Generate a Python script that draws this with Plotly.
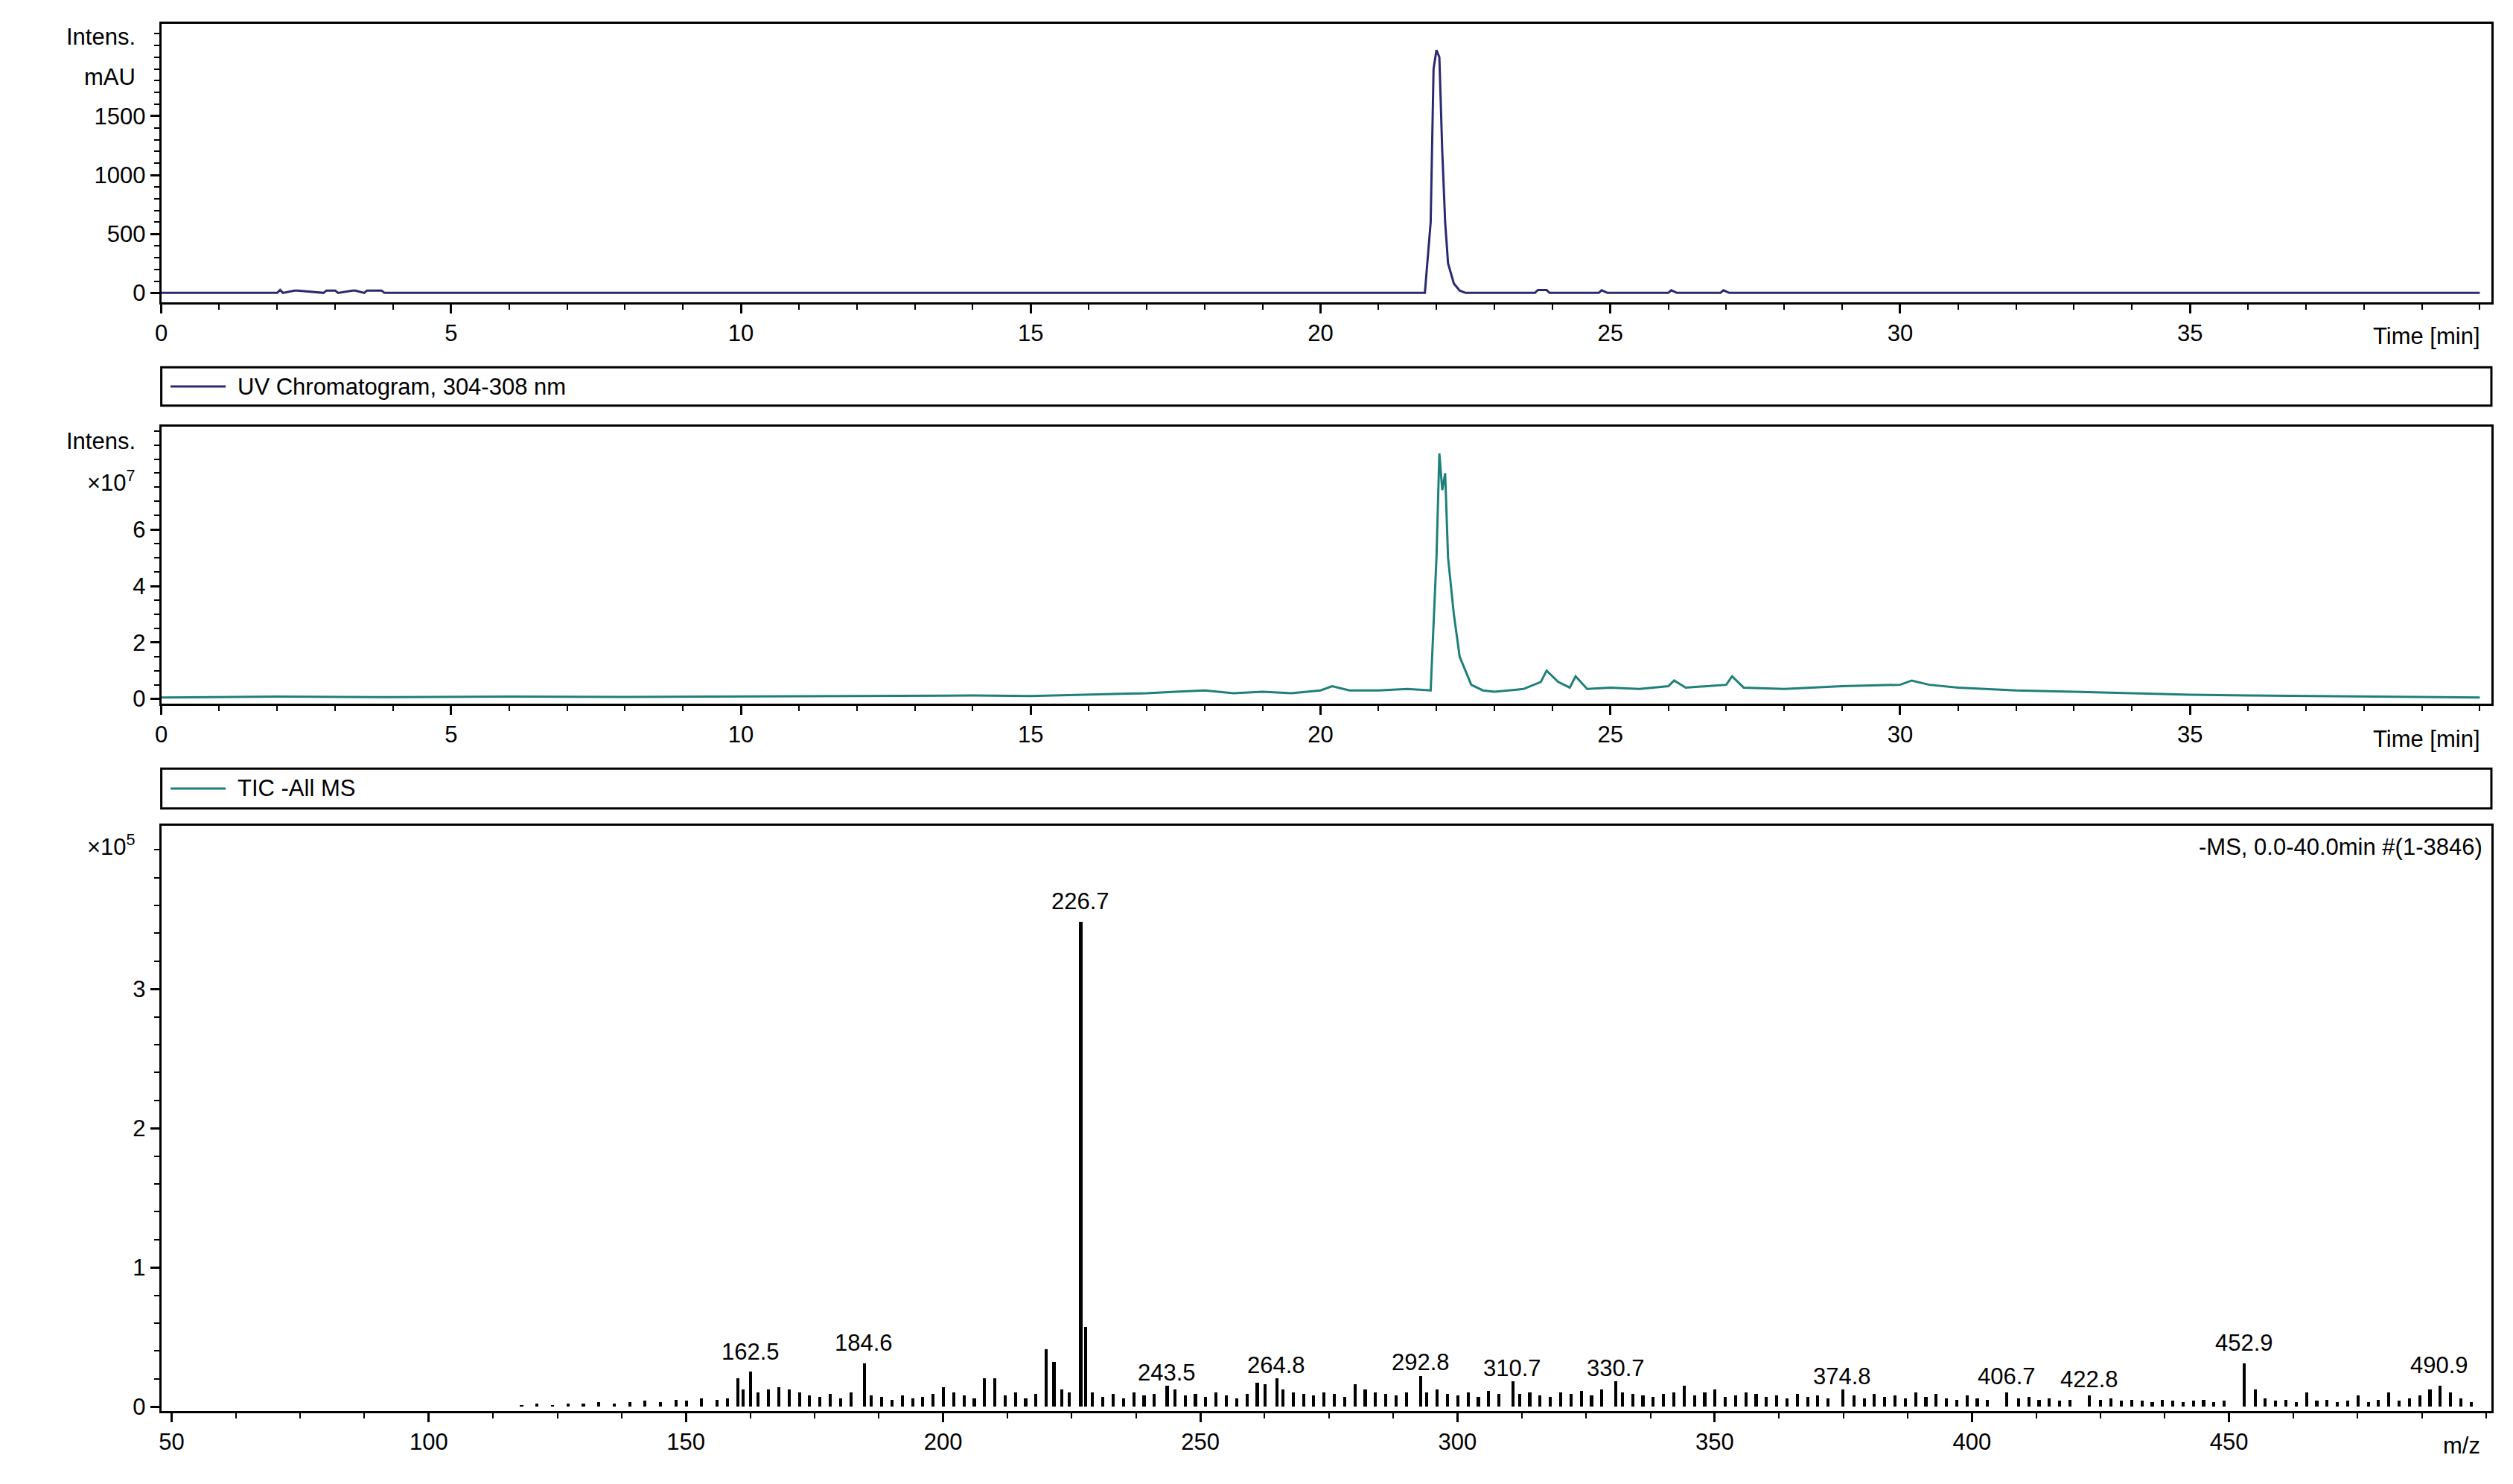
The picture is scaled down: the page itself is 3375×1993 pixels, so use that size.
import plotly.graph_objects as go

# UV chromatogram 304-308 nm (mAU)
uv_time = [0, 2.0, 2.05, 2.1, 2.3, 2.35, 2.8, 2.85, 3.0, 3.05, 3.3, 3.35, 3.5, 3.55, 3.8, 3.85,
           21.8, 21.9, 21.95, 22.0, 22.05, 22.1, 22.15, 22.2, 22.3, 22.4, 22.5,
           23.7, 23.75, 23.9, 23.95, 24.8, 24.85, 24.95, 26.0, 26.05, 26.15, 26.9, 26.95, 27.05, 40]
uv_int = [0, 0, 25, 0, 20, 20, 0, 20, 20, 0, 20, 20, 0, 20, 20, 0,
          0, 600, 1900, 2060, 2000, 1200, 600, 250, 80, 20, 0,
          0, 25, 25, 0, 0, 22, 0, 0, 22, 0, 0, 22, 0, 0]

# TIC - All MS (x10^7)
tic_time = [0, 2, 4, 6, 8, 10, 12, 14, 15, 16, 17, 17.5, 18, 18.5, 19, 19.5, 20, 20.2, 20.5, 21, 21.5,
            21.9, 22.0, 22.05, 22.1, 22.15, 22.2, 22.3, 22.4, 22.6, 22.8, 23.0, 23.5, 23.8, 23.9, 24.1,
            24.3, 24.4, 24.6, 25.0, 25.5, 26.0, 26.1, 26.3, 27.0, 27.1, 27.3, 28.0, 29.0, 30.0, 30.2,
            30.5, 31.0, 32.0, 33.0, 34.0, 35.0, 36.0, 37.0, 38.0, 39.0, 40.0]
tic_int = [0.05, 0.08, 0.06, 0.08, 0.07, 0.09, 0.1, 0.12, 0.1, 0.14, 0.2, 0.25, 0.3, 0.2, 0.25, 0.2,
           0.3, 0.45, 0.3, 0.3, 0.35, 0.3, 5.0, 8.7, 7.4, 8.0, 5.0, 3.0, 1.5, 0.5, 0.3, 0.25, 0.35,
           0.6, 1.0, 0.6, 0.4, 0.8, 0.35, 0.4, 0.35, 0.45, 0.65, 0.4, 0.5, 0.8, 0.4, 0.35, 0.45, 0.5,
           0.65, 0.5, 0.4, 0.3, 0.25, 0.2, 0.15, 0.12, 0.1, 0.08, 0.06, 0.05]

# mass spectrum (x10^5)
ms_mz = [118, 121, 124, 127, 130, 133, 136, 139, 142, 145, 148, 150, 153, 156, 158, 160, 161, 162.5,
         164, 166, 168, 170, 172, 174, 176, 178, 180, 182, 184.6, 186, 188, 190, 192, 194, 196, 198,
         200, 202, 204, 206, 208, 210, 212, 214, 216, 218, 220, 221.5, 223, 224.5, 226.7, 227.7, 229,
         231, 233, 235, 237, 239, 241, 243.5, 245, 247, 249, 251, 253, 255, 257, 259, 261, 262.5, 264.8,
         266, 268, 270, 272, 274, 276, 278, 280, 282, 284, 286, 288, 290, 292.8, 294, 296, 298, 300,
         302, 304, 306, 308, 310.7, 312, 314, 316, 318, 320, 322, 324, 326, 328, 330.7, 332, 334, 336,
         338, 340, 342, 344, 346, 348, 350, 352, 354, 356, 358, 360, 362, 364, 366, 368, 370, 372,
         374.8, 377, 379, 381, 383, 385, 387, 389, 391, 393, 395, 397, 399, 401, 403, 406.7, 409, 411,
         413, 415, 417, 419, 422.8, 425, 427, 429, 431, 433, 435, 437, 439, 441, 443, 445, 447, 449,
         452.9, 455, 457, 459, 461, 463, 465, 467, 469, 471, 473, 475, 477, 479, 481, 483, 485, 487,
         489, 490.9, 493, 495, 497]
ms_int = [0.01, 0.02, 0.01, 0.02, 0.02, 0.03, 0.02, 0.03, 0.04, 0.03, 0.05, 0.04, 0.06, 0.05, 0.06,
          0.2, 0.12, 0.25, 0.1, 0.12, 0.14, 0.12, 0.1, 0.08, 0.07, 0.09, 0.06, 0.1, 0.31, 0.08, 0.07,
          0.05, 0.08, 0.06, 0.07, 0.09, 0.14, 0.1, 0.08, 0.06, 0.2, 0.2, 0.08, 0.1, 0.06, 0.09, 0.41,
          0.32, 0.12, 0.1, 3.48, 0.57, 0.1, 0.07, 0.09, 0.06, 0.1, 0.08, 0.09, 0.15, 0.12, 0.08, 0.09,
          0.07, 0.1, 0.08, 0.06, 0.09, 0.17, 0.16, 0.2, 0.12, 0.1, 0.09, 0.08, 0.1, 0.09, 0.07, 0.16,
          0.12, 0.1, 0.09, 0.08, 0.1, 0.22, 0.1, 0.12, 0.09, 0.08, 0.1, 0.07, 0.11, 0.09, 0.18, 0.09,
          0.1, 0.08, 0.07, 0.1, 0.09, 0.11, 0.08, 0.12, 0.18, 0.1, 0.09, 0.08, 0.07, 0.09, 0.1, 0.15,
          0.08, 0.1, 0.12, 0.07, 0.08, 0.1, 0.09, 0.07, 0.08, 0.06, 0.09, 0.07, 0.08, 0.06, 0.12, 0.08,
          0.06, 0.09, 0.07, 0.08, 0.06, 0.1, 0.07, 0.09, 0.06, 0.05, 0.08, 0.06, 0.05, 0.1, 0.06, 0.07,
          0.05, 0.06, 0.04, 0.05, 0.08, 0.05, 0.06, 0.04, 0.05, 0.04, 0.03, 0.05, 0.04, 0.03, 0.04, 0.05,
          0.03, 0.04, 0.31, 0.12, 0.06, 0.04, 0.05, 0.03, 0.1, 0.04, 0.05, 0.03, 0.04, 0.08, 0.03, 0.05,
          0.1, 0.04, 0.06, 0.08, 0.12, 0.15, 0.1, 0.06, 0.03]
ms_labels = [162.5, 184.6, 226.7, 243.5, 264.8, 292.8, 310.7, 330.7, 374.8, 406.7, 422.8, 452.9, 490.9]
ms_label_y = [0.25, 0.31, 3.48, 0.1, 0.15, 0.17, 0.13, 0.13, 0.07, 0.07, 0.05, 0.31, 0.15]

FONT = "Liberation Sans"
UV_COL = "#2b2a6e"
TIC_COL = "#1f7f7a"

fig = go.Figure()
fig.add_trace(go.Scatter(x=uv_time, y=uv_int, mode="lines", line=dict(color=UV_COL, width=3),
                         xaxis="x", yaxis="y"))
fig.add_trace(go.Scatter(x=tic_time, y=tic_int, mode="lines", line=dict(color=TIC_COL, width=3),
                         xaxis="x2", yaxis="y2"))
fig.add_trace(go.Bar(x=ms_mz, y=ms_int, width=0.6, marker=dict(color="black", line_width=0),
                     xaxis="x3", yaxis="y3"))

ax = dict(showline=True, mirror=True, linecolor="black", linewidth=3, ticks="outside",
          ticklen=12, tickwidth=3, tickcolor="black", showgrid=False, zeroline=False,
          tickfont=dict(family=FONT, size=31, color="black"),
          minor=dict(ticks="outside", ticklen=7, tickwidth=2, tickcolor="black"))

fig.update_layout(
    width=3375, height=1993, paper_bgcolor="white", plot_bgcolor="white",
    margin=dict(l=0, r=0, t=0, b=0), showlegend=False, bargap=0,
    xaxis=dict(ax, domain=[0.0593, 0.989], anchor="y", range=[0, 40.2], tickvals=[0, 5, 10, 15, 20, 25, 30, 35],
               minor=dict(ax["minor"], dtick=1)),
    yaxis=dict(ax, domain=[0.799, 0.988], anchor="x", range=[-81, 2284], tickvals=[0, 500, 1000, 1500],
               minor=dict(ax["minor"], dtick=100)),
    xaxis2=dict(ax, domain=[0.0593, 0.989], anchor="y2", range=[0, 40.2], tickvals=[0, 5, 10, 15, 20, 25, 30, 35],
                minor=dict(ax["minor"], dtick=1)),
    yaxis2=dict(ax, domain=[0.527, 0.715], anchor="x2", range=[-0.17, 9.66], tickvals=[0, 2, 4, 6],
                minor=dict(ax["minor"], dtick=0.5)),
    xaxis3=dict(ax, domain=[0.0593, 0.989], anchor="y3", range=[48, 501], tickvals=[50, 100, 150, 200, 250, 300, 350, 400, 450],
                minor=dict(ax["minor"], dtick=12.5)),
    yaxis3=dict(ax, domain=[0.0475, 0.444], anchor="x3", range=[-0.03, 4.17], tickvals=[0, 1, 2, 3],
                minor=dict(ax["minor"], dtick=0.2)),
)

tf = dict(family=FONT, size=31, color="black")
def note(text, x, y, xanchor="right", yanchor="middle", xref="paper", yref="paper", size=31):
    fig.add_annotation(text=text, x=x, y=y, xref=xref, yref=yref, xanchor=xanchor, yanchor=yanchor,
                       showarrow=False, font=dict(tf, size=size))

note("Intens.", 0.0495, 0.979)
note("mAU", 0.0495, 0.952)
note("Time [min]", 0.985, 0.776)
note("Intens.", 0.0495, 0.705)
note("×10<sup>7</sup>", 0.0495, 0.678)
note("Time [min]", 0.985, 0.503)
note("×10<sup>5</sup>", 0.0495, 0.431)
note("m/z", 0.985, 0.024)
note("-MS, 0.0-40.0min #(1-3846)", 0.986, 0.430, yanchor="middle")

# legend boxes
for y0, y1, col, label in [(0.729, 0.755, UV_COL, "UV Chromatogram, 304-308 nm"),
                           (0.456, 0.483, TIC_COL, "TIC -All MS")]:
    fig.add_shape(type="rect", xref="paper", yref="paper", x0=0.0593, x1=0.989, y0=y0, y1=y1,
                  line=dict(color="black", width=3))
    ym = (y0 + y1) / 2
    fig.add_shape(type="line", xref="paper", yref="paper", x0=0.063, x1=0.085, y0=ym, y1=ym,
                  line=dict(color=col, width=3))
    note(label, 0.089, ym, xanchor="left")

for mz, h in zip(ms_labels, ms_label_y):
    fig.add_annotation(text=f"{mz}", x=mz, y=h, xref="x3", yref="y3", yanchor="bottom", yshift=8,
                       showarrow=False, font=tf)

fig.write_html("out.html")
